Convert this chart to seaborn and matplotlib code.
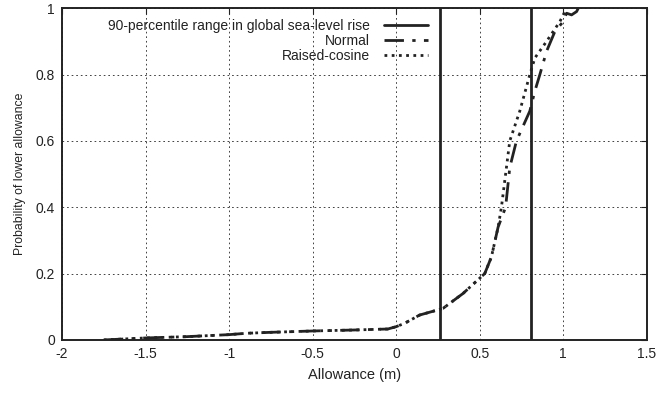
import numpy as np
import pandas as pd
import matplotlib
matplotlib.use("Agg")
import matplotlib.pyplot as plt
import seaborn as sns

# Data
normal_x = [-1.75, -1.5, -1.25, -1.0, -0.9, -0.75, -0.5, -0.25, -0.05, 0.0, 0.05, 0.14, 0.28,
            0.4, 0.53, 0.57, 0.61, 0.655, 0.68, 0.72, 0.80, 0.83, 0.86, 0.90, 0.95, 1.0,
            1.02, 1.05, 1.08, 1.09]
normal_y = [0.0, 0.006, 0.01, 0.016, 0.02, 0.023, 0.027, 0.03, 0.033, 0.04, 0.05, 0.075, 0.095,
            0.14, 0.2, 0.25, 0.34, 0.40, 0.52, 0.60, 0.69, 0.75, 0.80, 0.87, 0.93, 0.96,
            0.985, 0.98, 0.99, 1.0]
rc_x = [-1.75, -1.5, -1.25, -1.0, -0.9, -0.75, -0.5, -0.25, -0.05, 0.0, 0.05, 0.14, 0.28,
        0.4, 0.53, 0.57, 0.61, 0.63, 0.66, 0.68, 0.74, 0.80, 0.83, 0.90, 0.98, 1.01, 1.02]
rc_y = [0.0, 0.006, 0.01, 0.016, 0.02, 0.023, 0.027, 0.03, 0.033, 0.04, 0.05, 0.075, 0.095,
        0.14, 0.2, 0.25, 0.34, 0.40, 0.52, 0.60, 0.69, 0.80, 0.85, 0.90, 0.96, 0.99, 1.0]
range_bounds = [0.264, 0.806]
xticks = [-2, -1.5, -1, -0.5, 0, 0.5, 1, 1.5]
yticks = [0, 0.2, 0.4, 0.6, 0.8, 1]

sns.set_style("white")
plt.rcParams['font.family'] = ['Liberation Sans', 'DejaVu Sans']
plt.rcParams['font.size'] = 10

fig = plt.figure(figsize=(6.62, 3.93), dpi=100)
ax = fig.add_axes([0.0937, 0.135, 0.977 - 0.0937, 0.979 - 0.135])

df_n = pd.DataFrame({"x": normal_x, "y": normal_y})
df_r = pd.DataFrame({"x": rc_x, "y": rc_y})

# range lines
h_range = None
for i, b in enumerate(range_bounds):
    l = ax.axvline(b, color="#222222", lw=2.0, zorder=3)
    if i == 0:
        h_range = l

sns.lineplot(data=df_n, x="x", y="y", ax=ax, color="#222222", lw=2.0, sort=False,
             estimator=None, zorder=4)
ln_n = ax.lines[-1]
ln_n.set_linestyle((0, (7, 3, 1.2, 3)))
sns.lineplot(data=df_r, x="x", y="y", ax=ax, color="#222222", lw=2.0, sort=False,
             estimator=None, zorder=4)
ln_r = ax.lines[-1]
ln_r.set_linestyle((0, (1.0, 1.6)))

ax.set_xlim(-2, 1.5)
ax.set_ylim(0, 1)
ax.set_xticks(xticks)
ax.set_xticklabels([f"{t:g}" for t in xticks])
ax.set_yticks(yticks)
ax.set_yticklabels([f"{t:g}" for t in yticks])
ax.grid(True, color="#222222", linestyle=(0, (2, 3.5)), linewidth=0.6)
ax.tick_params(direction="in", length=4, width=0.8, top=True, right=True, colors="#222222",
               labelcolor="#222222", labelsize=10, pad=5)
for s in ax.spines.values():
    s.set_color("#222222")
    s.set_linewidth(1.4)
ax.set_xlabel("Allowance (m)", fontsize=10.5, color="#222222", labelpad=5)
ax.set_ylabel("Probability of lower allowance", fontsize=8.8, color="#222222", labelpad=7)

leg = ax.legend([h_range, ln_n, ln_r],
                ["90-percentile range in global sea-level rise", "Normal", "Raised-cosine"],
                loc="upper right", bbox_to_anchor=(428 / 662, 1 - 19 / 393),
                bbox_transform=fig.transFigure, markerfirst=False, frameon=False,
                handlelength=3.2, handletextpad=0.95, labelspacing=0.08, fontsize=10,
                borderaxespad=0, borderpad=0)
for t in leg.get_texts():
    t.set_color("#222222")

fig.savefig("out.png", dpi=100)
